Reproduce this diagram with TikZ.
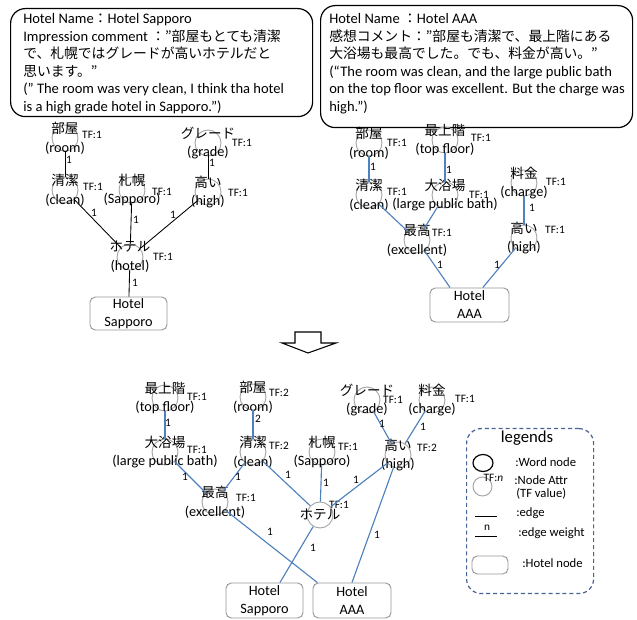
\documentclass[tikz,border=0pt]{standalone}
\usepackage{fontspec}
\setmainfont{Carlito}
\newfontfamily\jp{Noto Sans CJK JP}[Scale=0.95]
\usetikzlibrary{shapes.geometric}
\definecolor{circgray}{RGB}{165,165,165}
\definecolor{boxgray}{RGB}{150,150,150}
\definecolor{edgeblue}{RGB}{79,129,189}
\definecolor{legblue}{RGB}{70,100,150}
\newcommand\wnode[4]{\node[word] (#1) at (#2) {}; \node[wtext] (#1-t) at (#1) {{\jp #3}\\#4};}
\newcommand\tfl[3]{\node[tf] (#1-tf) at (#2) {TF:#3};}
\begin{document}
\begin{tikzpicture}[x=0.75pt,y=-0.75pt,
  word/.style={circle,draw=circgray,line width=0.7pt,minimum size=19.5pt,inner sep=0pt},
  wtext/.style={align=center,inner sep=0pt,font=\fontsize{10.7}{14}\selectfont},
  tf/.style={inner sep=0pt,text=black,font=\fontsize{8.5}{10}\selectfont},
  el/.style={inner sep=0pt,text=black,font=\fontsize{8.5}{10}\selectfont},
  lt/.style={inner sep=0pt,font=\fontsize{9.5}{11}\selectfont},
  kedge/.style={line width=0.65pt,black},
  bedge/.style={line width=0.85pt,edgeblue},
  hbox/.style={draw=boxgray,rounded corners=4pt,line width=0.7pt,align=center,inner sep=0pt,font=\fontsize{10.7}{13.5}\selectfont},
  cbox/.style={draw=black,rounded corners=11pt,line width=0.9pt,inner sep=0pt,anchor=north west},
  ctext/.style={align=left,inner sep=0pt,anchor=north west,font=\fontsize{10.9}{13.1}\selectfont},
]
\useasboundingbox (0,0) rectangle (637,620);

% ---------- comment boxes ----------
\node[cbox,minimum width=226.5pt,minimum height=81pt] (lbox) at (10,8) {};
\node[ctext] (ltext) at (23,13.5) {Hotel Name{\jp ：}Hotel Sapporo\\
Impression comment {\jp ：”部屋もとても清潔}\\
{\jp で、札幌ではグレードが高いホテルだと}\\
{\jp 思います。”}\\
(” The room was very clean, I think tha hotel\\
is a high grade hotel in Sapporo.”)};

\node[cbox,minimum width=234pt,minimum height=91.5pt] (rbox) at (320,5) {};
\node[ctext] (rtext) at (329,13.5) {Hotel Name {\jp ：}Hotel AAA\\
{\jp 感想コメント：”部屋も清潔で、最上階にある}\\
{\jp 大浴場も最高でした。でも、料金が高い。”}\\
(“The room was clean, and the large public bath\\
on the top floor was excellent. But the charge was\\
high.”)};

% ---------- top-left tree ----------
\wnode{aroom}{65,138}{部屋}{(room)}
\wnode{aclean}{65,190}{清潔}{(clean)}
\wnode{asap}{132,190}{札幌}{(Sapporo)}
\wnode{agrade}{208,143}{グレード}{(grade)}
\wnode{ahigh}{208,192}{高い}{(high)}
\wnode{ahotel}{130,257}{ホテル}{(hotel)}
\tfl{aroom}{92,135}{1}
\tfl{aclean}{93,187}{1}
\tfl{asap}{162,192}{1}
\tfl{agrade}{242,143}{1}
\tfl{ahigh}{238,193}{1}
\tfl{ahotel}{163,257}{1}
\node[hbox,minimum width=57.75pt,minimum height=24.75pt] (abox) at (128.5,313.5) {Hotel\\Sapporo};
\draw[kedge] (aroom) -- (aclean) node[el] at (69,160) {1};
\draw[kedge] (aclean) -- (ahotel) node[el] at (94,213) {1};
\draw[kedge] (asap) -- (ahotel) node[el] at (136,220) {1};
\draw[kedge] (ahigh) -- (ahotel) node[el] at (173,215) {1};
\draw[kedge] (agrade) -- (ahigh) node[el] at (212,163) {1};
\draw[kedge] (ahotel) -- (abox) node[el] at (135,283) {1};

% ---------- top-right tree ----------
\wnode{broom}{369,143}{部屋}{(room)}
\wnode{btop}{445,140}{最上階}{(top floor)}
\wnode{bclean}{369,195}{清潔}{(clean)}
\wnode{bbath}{445,195}{大浴場}{(large public bath)}
\wnode{bcharge}{524,183}{料金}{(charge)}
\wnode{bexc}{417,240}{最高}{(excellent)}
\wnode{bhigh}{524,238}{高い}{(high)}
\tfl{broom}{397,143}{1}
\tfl{btop}{481,138}{1}
\tfl{bclean}{397,192}{1}
\tfl{bbath}{479,195}{1}
\tfl{bcharge}{556,182}{1}
\tfl{bexc}{442,233}{1}
\tfl{bhigh}{555,230}{1}
\node[hbox,minimum width=59.25pt,minimum height=25.5pt] (bbox) at (469.5,305) {Hotel\\AAA};
\draw[bedge] (broom) -- (bclean) node[el] at (373,167) {1};
\draw[bedge] (btop) -- (bbath) node[el] at (449,170) {1};
\draw[bedge] (bcharge) -- (bhigh) node[el] at (532,208) {1};
\draw[bedge] (bclean) -- (bexc);
\draw[bedge] (bbath) -- (bexc);
\draw[bedge] (bexc) -- ([xshift=-14.6pt]bbox.north) node[el] at (440,265) {1};
\draw[bedge] (bhigh) -- ([xshift=10pt]bbox.north) node[el] at (497,265) {1};

% ---------- block arrow ----------
\draw[line width=0.8pt,fill=white] (295,332) -- (321,332) -- (321,343) -- (336,343) -- (308,353) -- (282,343) -- (295,343) -- cycle;

% ---------- merged graph ----------
\wnode{ctop}{165,398}{最上階}{(top floor)}
\wnode{croom}{253,397}{部屋}{(room)}
\wnode{cgrade}{367,400}{グレード}{(grade)}
\wnode{ccharge}{432,400}{料金}{(charge)}
\wnode{cbath}{165,452}{大浴場}{(large public bath)}
\wnode{cclean}{253,452}{清潔}{(clean)}
\wnode{csap}{322,452}{札幌}{(Sapporo)}
\wnode{chigh}{398,455}{高い}{(high)}
\wnode{cexc}{215,502}{最高}{(excellent)}
\node[word] (chotel) at (320,515) {};
\node[wtext] (chotel-t) at (chotel) {\jp ホテル};
\tfl{ctop}{197,397}{1}
\tfl{croom}{279,393}{2}
\tfl{cgrade}{393,400}{1}
\tfl{ccharge}{465,399}{1}
\tfl{cbath}{197,450}{1}
\tfl{cclean}{279,446}{2}
\tfl{csap}{348,447}{1}
\tfl{chigh}{427,448}{2}
\tfl{cexc}{246,498}{1}
\tfl{chotel}{339,505}{1}
\node[hbox,minimum width=57.75pt,minimum height=26.25pt] (cboxs) at (264.5,600.5) {Hotel\\Sapporo};
\node[hbox,minimum width=58.5pt,minimum height=26.25pt] (cboxa) at (352,600.5) {Hotel\\AAA};
\draw[bedge] (ctop) -- (cbath) node[el] at (168,423) {1};
\draw[bedge] (croom) -- (cclean) node[el] at (258,419) {2};
\draw[bedge] (cgrade) -- (chigh) node[el] at (382,424) {1};
\draw[bedge] (ccharge) -- (chigh) node[el] at (423,427) {1};
\draw[bedge] (cbath) -- (cexc) node[el] at (185,477) {1};
\draw[bedge] (cclean) -- (cexc) node[el] at (238,477) {1};
\draw[bedge] (cclean) -- (chotel) node[el] at (288,475) {1};
\draw[bedge] (csap) -- (chotel) node[el] at (326,483) {1};
\draw[bedge] (chigh) -- (chotel) node[el] at (356,480) {1};
\draw[bedge] (cexc) -- ([xshift=-26pt]cboxa.north) node[el] at (270,532) {1};
\draw[bedge] (chotel) -- ([xshift=11.6pt]cboxs.north) node[el] at (313,548) {1};
\draw[bedge] (chigh) -- (cboxa.north) node[el] at (377,535) {1};

% ---------- legend ----------
\node[draw=legblue,dash pattern=on 3pt off 2.2pt,rounded corners=11pt,line width=0.9pt,minimum width=95.25pt,minimum height=123.75pt,anchor=north west,inner sep=0pt] (leg) at (466,428) {};
\node[inner sep=0pt,font=\fontsize{12.5}{14}\selectfont] (legt) at (527,438) {legends};
\node[draw=black,line width=0.9pt,ellipse,minimum width=15pt,minimum height=12.75pt,inner sep=0pt] (lword) at (483,463) {};
\node[lt,anchor=west] (lwordt) at (515,462) {:Word node};
\node[word,minimum size=14.25pt] (lattr) at (482.5,486.5) {};
\node[tf] (lattrtf) at (493.5,478) {TF:\textit{n}};
\node[lt,anchor=west] (lattrt) at (514,480) {:Node Attr};
\node[lt,anchor=west] (lattrt2) at (516,494) {(TF value)};
\coordinate (le1) at (475,516);
\coordinate (le2) at (497,516);
\draw[kedge] (le1) -- (le2);
\node[lt,anchor=west] (ledget) at (516,513) {:edge};
\coordinate (lw1) at (475,536);
\coordinate (lw2) at (497,536);
\draw[kedge] (lw1) -- (lw2) node[el] at (487,528) {n};
\node[lt,anchor=west] (lweightt) at (518,533) {:edge weight};
\node[hbox,minimum width=27pt,minimum height=13.5pt] (lhotel) at (490,565) {};
\node[lt,anchor=west] (lhotelt) at (522,563) {:Hotel node};
\end{tikzpicture}
\end{document}
